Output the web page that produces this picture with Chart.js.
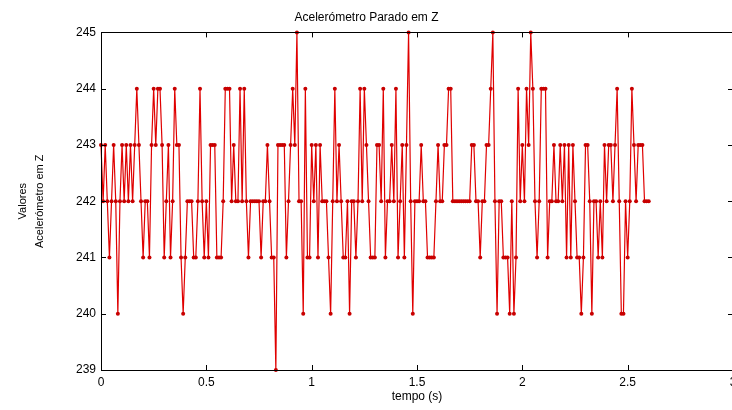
<!DOCTYPE html>
<html>
<head>
<meta charset="utf-8">
<script src="https://cdn.jsdelivr.net/npm/chart.js@4"></script>
<style>
  html, body { margin: 0; padding: 0; background: #fff; overflow: hidden; }
  #wrap { width: 740px; height: 410px; }
</style>
</head>
<body>
<div id="wrap"><canvas id="accChart"></canvas></div>
<script>
// Amostras do acelerómetro (eixo Z), 100 Hz
const sampleStep = 0.01;
const zValues = [
  243, 242, 243, 242, 241, 242, 243, 242, 240, 242,
  243, 242, 243, 242, 243, 242, 243, 244, 243, 242,
  241, 242, 242, 241, 243, 244, 243, 244, 244, 243,
  241, 242, 243, 241, 242, 244, 243, 243, 241, 240,
  241, 242, 242, 242, 241, 241, 242, 244, 242, 241,
  242, 241, 243, 243, 243, 241, 241, 241, 242, 244,
  244, 244, 242, 243, 242, 242, 244, 242, 244, 242,
  241, 242, 242, 242, 242, 242, 241, 242, 242, 243,
  242, 241, 241, 239, 243, 243, 243, 243, 241, 242,
  243, 244, 243, 245, 242, 242, 240, 244, 241, 241,
  243, 242, 243, 241, 243, 242, 242, 242, 241, 240,
  242, 244, 242, 243, 242, 241, 241, 242, 240, 242,
  242, 241, 242, 244, 242, 244, 243, 242, 241, 241,
  241, 243, 243, 242, 244, 241, 242, 242, 243, 242,
  244, 241, 242, 243, 241, 243, 245, 242, 240, 242,
  242, 242, 243, 242, 242, 241, 241, 241, 241, 242,
  243, 242, 242, 243, 243, 244, 244, 242, 242, 242,
  242, 242, 242, 242, 242, 242, 243, 243, 242, 242,
  241, 242, 242, 243, 243, 244, 245, 242, 240, 242,
  242, 241, 241, 241, 240, 242, 240, 241, 244, 242,
  243, 242, 244, 243, 245, 244, 242, 241, 242, 244,
  244, 244, 241, 242, 242, 243, 242, 242, 243, 242,
  243, 241, 243, 241, 243, 242, 241, 241, 240, 241,
  243, 243, 242, 240, 242, 242, 241, 242, 241, 243,
  242, 243, 243, 242, 243, 244, 242, 240, 240, 242,
  241, 242, 244, 243, 242, 243, 243, 243, 242, 242,
  242
];
const xTicks = [0, 0.5, 1, 1.5, 2, 2.5, 3];
const yTicks = [239, 240, 241, 242, 243, 244, 245];

const points = zValues.map((v, i) => ({ x: +(i * sampleStep).toFixed(2), y: v }));

// caixa à volta do gráfico + marcas de escala para dentro (estilo MATLAB)
const boxTicks = {
  id: 'boxTicks',
  afterDraw(chart) {
    const { ctx, chartArea: a, scales } = chart;
    ctx.save();
    ctx.strokeStyle = '#000';
    ctx.lineWidth = 1;
    ctx.strokeRect(Math.round(a.left) + 0.5, Math.round(a.top) + 0.5,
      Math.round(a.right - a.left) - 1, Math.round(a.bottom - a.top));
    const len = 5;
    ctx.beginPath();
    xTicks.forEach(t => {
      const px = Math.round(scales.x.getPixelForValue(t)) + 0.5;
      ctx.moveTo(px, a.bottom); ctx.lineTo(px, a.bottom - len);
      ctx.moveTo(px, a.top); ctx.lineTo(px, a.top + len);
    });
    yTicks.forEach(t => {
      const py = Math.round(scales.y.getPixelForValue(t)) + 0.5;
      ctx.moveTo(a.left, py); ctx.lineTo(a.left + len, py);
      ctx.moveTo(a.right, py); ctx.lineTo(a.right - len, py);
    });
    ctx.stroke();
    ctx.restore();
  }
};

const font = { family: 'Liberation Sans, Arial, sans-serif', size: 12 };

new Chart(document.getElementById('accChart'), {
  type: 'line',
  data: {
    datasets: [{
      data: points,
      borderColor: '#e00000',
      borderWidth: 1.2,
      pointRadius: 2,
      pointBackgroundColor: '#c80000',
      pointBorderWidth: 0,
      tension: 0,
      clip: 4
    }]
  },
  options: {
    responsive: true,
    maintainAspectRatio: false,
    animation: false,
    layout: { padding: { top: 0, right: 7, bottom: 0, left: 0 } },
    plugins: {
      legend: { display: false },
      tooltip: { enabled: false },
      title: {
        display: true,
        text: 'Acelerómetro Parado em Z',
        color: '#000',
        font: { family: font.family, size: 12, weight: 'normal' },
        padding: { top: 10, bottom: 8 }
      }
    },
    scales: {
      x: {
        type: 'linear',
        min: 0,
        max: 3,
        afterBuildTicks: s => { s.ticks = xTicks.map(v => ({ value: v })); },
        afterFit: s => { s.height = 40; s.paddingRight = 0; s.paddingLeft = 0; },
        grid: { display: false, drawTicks: false },
        border: { display: false },
        ticks: { color: '#000', font, padding: 5, maxRotation: 0, callback: v => String(v) },
        title: { display: true, text: 'tempo (s)', color: '#000', font, padding: { top: 0, bottom: 6 } }
      },
      y: {
        min: 239,
        max: 245,
        afterBuildTicks: s => { s.ticks = yTicks.map(v => ({ value: v })); },
        afterFit: s => { s.width = 101; },
        grid: { display: false, drawTicks: false },
        border: { display: false },
        ticks: { color: '#000', font, padding: 5 },
        title: {
          display: true,
          text: ['Valores', 'Acelerómetro em Z'],
          color: '#000',
          font: { family: font.family, size: 11, lineHeight: 1.6 },
          padding: { top: 14, bottom: 0 }
        }
      }
    }
  },
  plugins: [boxTicks]
});
</script>
</body>
</html>
